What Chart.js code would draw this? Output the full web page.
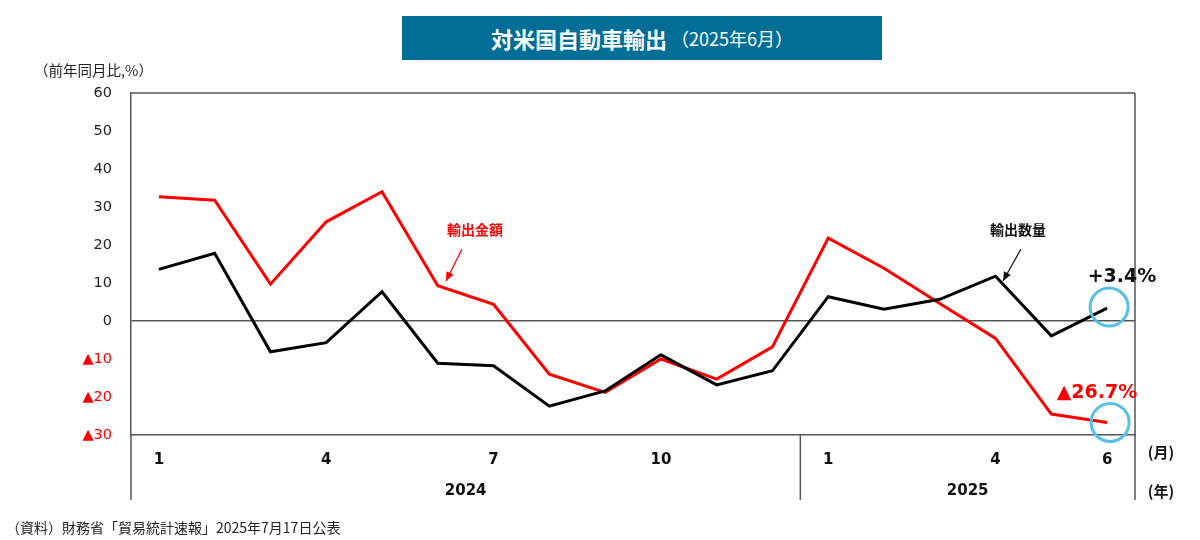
<!DOCTYPE html>
<html><head><meta charset="utf-8">
<script src="https://cdn.jsdelivr.net/npm/chart.js@4"></script>
<style>
html,body{margin:0;padding:0;background:#fff;}
#wrap{position:relative;width:1200px;height:540px;}
#title{position:absolute;left:402px;top:16px;width:480px;height:44px;background:#006e96;color:#fff;display:flex;align-items:center;justify-content:center;font-family:'Noto Sans CJK JP',sans-serif;}
#title b{font-size:22px;font-weight:700;}
#title span{font-size:18px;font-weight:400;margin-left:4px;}
#unit{position:absolute;left:34px;top:59px;font-family:'Noto Sans CJK JP',sans-serif;font-size:14.5px;color:#222;}
#src{position:absolute;left:6px;top:517px;font-family:'Noto Sans CJK JP',sans-serif;font-size:14px;color:#222;}
</style></head>
<body>
<div id="wrap">
<canvas id="c" width="1200" height="540"></canvas>
<div id="title"><b>対米国自動車輸出</b><span>（2025年6月）</span></div>
<div id="unit">（前年同月比,%）</div>
<div id="src">（資料）財務省「貿易統計速報」2025年7月17日公表</div>
</div>
<script>
const months = ['1','2','3','4','5','6','7','8','9','10','11','12','1','2','3','4','5','6'];
const shownMonths = ['1','','','4','','','7','','','10','','','1','','','4','','6'];
const years = ['2024','2025'];
const yearStarts = [0,12];
const exportValue = [32.7,31.8,9.7,26.1,34.0,9.3,4.4,-14.0,-18.8,-10.0,-15.3,-6.8,21.8,13.9,4.6,-4.6,-24.5,-26.7];
const exportVolume = [13.6,17.8,-8.1,-5.7,7.7,-11.1,-11.8,-22.4,-18.4,-8.9,-16.8,-13.1,6.4,3.1,5.7,11.8,-3.9,3.4];
const yMin = -30, yMax = 60, yStep = 10;

const FONT = "'DejaVu Sans','Noto Sans CJK JP',sans-serif";
const JP = "'Noto Sans CJK JP',sans-serif";
const GRAY = '#555';

function arrow(ctx, x1, y1, x2, y2, color){
  ctx.save();
  ctx.strokeStyle = color; ctx.fillStyle = color; ctx.lineWidth = 1.2;
  ctx.beginPath(); ctx.moveTo(x1,y1); ctx.lineTo(x2,y2); ctx.stroke();
  const a = Math.atan2(y2-y1, x2-x1), L = 9, W = 4;
  ctx.beginPath();
  ctx.moveTo(x2,y2);
  ctx.lineTo(x2 - L*Math.cos(a) + W*Math.sin(a), y2 - L*Math.sin(a) - W*Math.cos(a));
  ctx.lineTo(x2 - L*Math.cos(a) - W*Math.sin(a), y2 - L*Math.sin(a) + W*Math.cos(a));
  ctx.closePath(); ctx.fill();
  ctx.restore();
}

const overlay = {
  id:'overlay',
  afterDraw(chart){
    const ctx = chart.ctx, a = chart.chartArea;
    const xs = chart.scales.x, ys = chart.scales.y;
    const bottomExt = 500;
    ctx.save();
    ctx.strokeStyle = GRAY; ctx.lineWidth = 1.5;
    ctx.beginPath();
    ctx.moveTo(a.left, a.top); ctx.lineTo(a.right, a.top);
    ctx.moveTo(a.right, a.top); ctx.lineTo(a.right, bottomExt);
    ctx.moveTo(a.left, a.bottom); ctx.lineTo(a.left, bottomExt);
    const step = xs.getPixelForValue(1) - xs.getPixelForValue(0);
    const divX = xs.getPixelForValue(yearStarts[1]) - step/2;
    ctx.moveTo(divX, a.bottom); ctx.lineTo(divX, bottomExt);
    ctx.stroke();
    ctx.fillStyle = '#111';
    ctx.font = 'bold 15px ' + FONT;
    ctx.textAlign = 'center'; ctx.textBaseline = 'middle';
    ctx.fillText(years[0], (a.left + divX)/2, 491);
    ctx.fillText(years[1], (divX + a.right)/2, 491);
    ctx.font = 'bold 15px ' + JP;
    ctx.fillText('(月)', 1161, 452);
    ctx.fillText('(年)', 1161, 491);
    const last = months.length - 1;
    const px = xs.getPixelForValue(last);
    const pyV = ys.getPixelForValue(exportVolume[last]);
    const pyR = ys.getPixelForValue(exportValue[last]);
    ctx.font = 'bold 14px ' + JP;
    ctx.fillStyle = '#ff0000';
    ctx.fillText('輸出金額', 475, 230);
    ctx.fillStyle = '#111';
    ctx.fillText('輸出数量', 1018, 230);
    arrow(ctx, 462, 249, 446, 281, '#ff0000');
    arrow(ctx, 1021, 249, 1003, 281, '#111');
    ctx.font = 'bold 19px ' + FONT;
    ctx.fillStyle = '#111';
    ctx.fillText('+3.4%', 1122, 277);
    ctx.fillStyle = '#ff0000';
    ctx.fillText('▲26.7%', 1097, 393);
    ctx.strokeStyle = '#55c0e8'; ctx.lineWidth = 3;
    ctx.beginPath(); ctx.arc(px + 2, pyV - 1, 19, 0, Math.PI*2); ctx.stroke();
    ctx.beginPath(); ctx.arc(px + 3, pyR, 19, 0, Math.PI*2); ctx.stroke();
    ctx.restore();
  }
};

new Chart(document.getElementById('c'), {
  type:'line',
  data:{
    labels: months,
    datasets:[
      {label:'輸出金額', data:exportValue, borderColor:'#ff0000', borderWidth:3, pointRadius:0, tension:0, order:2},
      {label:'輸出数量', data:exportVolume, borderColor:'#000000', borderWidth:3, pointRadius:0, tension:0, order:1}
    ]
  },
  options:{
    responsive:false, animation:false, devicePixelRatio:1,
    layout:{padding:{left:0, right:65, top:93, bottom:0}},
    plugins:{legend:{display:false}, tooltip:{enabled:false}},
    scales:{
      x:{
        type:'category', offset:true,
        afterFit(s){ s.height = 105; },
        grid:{display:false, drawTicks:false},
        border:{display:true, color:GRAY, width:1.5},
        ticks:{autoSkip:false, maxRotation:0, padding:16, color:'#111',
          font:{family:FONT, size:15, weight:'bold'},
          callback:(v,i)=>shownMonths[i]}
      },
      y:{
        min:yMin, max:yMax,
        afterFit(s){ s.width = 131; },
        grid:{drawTicks:false, lineWidth:1.5,
          color:(c)=> c.tick && c.tick.value === 0 ? GRAY : 'rgba(0,0,0,0)'},
        border:{display:true, color:GRAY, width:1.5},
        ticks:{stepSize:yStep, padding:19,
          font:{family:FONT, size:14.5},
          color:(c)=> c.tick && c.tick.value < 0 ? '#ff0000' : '#222',
          callback:(v)=> v < 0 ? '▲' + Math.abs(v) : String(v)}
      }
    }
  },
  plugins:[overlay]
});
</script>
</body></html>
